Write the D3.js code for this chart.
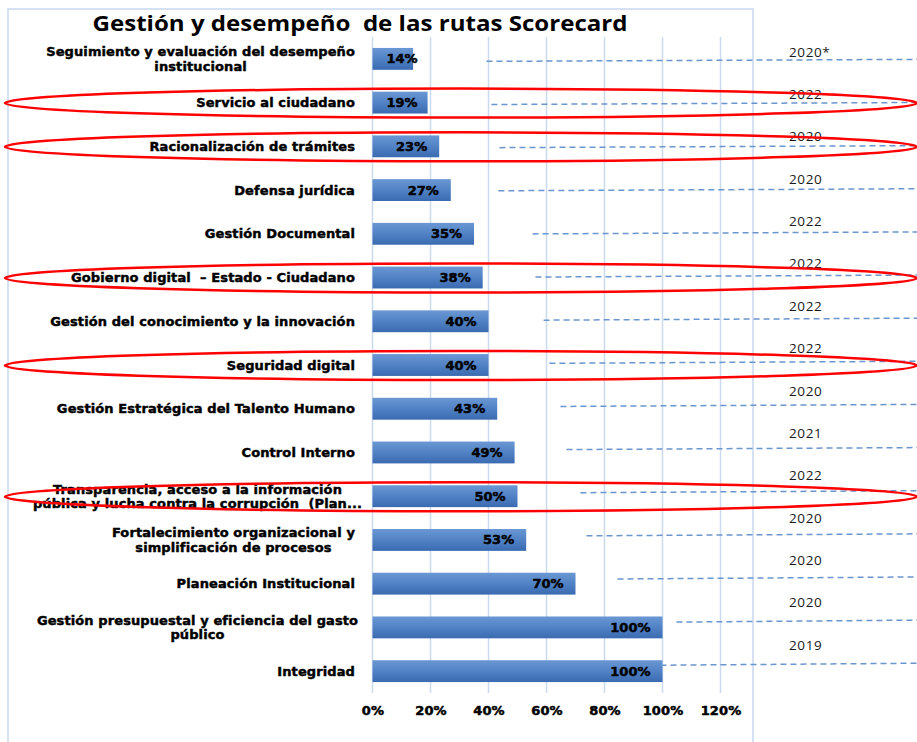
<!DOCTYPE html>
<html><head><meta charset="utf-8">
<script src="https://cdn.jsdelivr.net/npm/d3@7"></script>
<style>
html,body{margin:0;padding:0;background:#fff;}
svg{display:block;}
</style></head>
<body>
<script>
// ---------- DATA ----------
const categories = [
  "Seguimiento y evaluación del desempeño|institucional",
  "Servicio al ciudadano",
  "Racionalización de trámites",
  "Defensa jurídica",
  "Gestión Documental",
  "Gobierno digital  – Estado - Ciudadano",
  "Gestión del conocimiento y la innovación",
  "Seguridad digital",
  "Gestión Estratégica del Talento Humano",
  "Control Interno",
  "Transparencia, acceso a la información|pública y lucha contra la corrupción  (Plan...",
  "Fortalecimiento organizacional y|simplificación de procesos",
  "Planeación Institucional",
  "Gestión presupuestal y eficiencia del gasto|público",
  "Integridad"
];
const values = [14, 19, 23, 27, 35, 38, 40, 40, 43, 49, 50, 53, 70, 100, 100];
const years = ["2020*", "2022", "2020", "2020", "2022", "2022", "2022", "2022", "2020", "2021", "2022", "2020", "2020", "2020", "2019"];
// where each dashed leader line starts, in axis units (%)
const leaderStart = [39.3, 41, 43.8, 43.4, 55.2, 56.2, 59, 61, 64.8, 66.9, 71.7, 73.8, 84.5, 104.8, 99.3];
const highlighted = [
  "Servicio al ciudadano",
  "Racionalización de trámites",
  "Gobierno digital  – Estado - Ciudadano",
  "Seguridad digital",
  "Transparencia, acceso a la información|pública y lucha contra la corrupción  (Plan..."
];
const xTicks = [0, 20, 40, 60, 80, 100, 120];
const title = "Gestión y desempeño  de las rutas Scorecard";

// ---------- LAYOUT ----------
const W = 917, H = 742;
const svg = d3.select("body").append("svg").attr("width", W).attr("height", H);

const defs = svg.append("defs");
const grad = defs.append("linearGradient").attr("id", "barGrad")
  .attr("x1", 0).attr("y1", 0).attr("x2", 0).attr("y2", 1);
grad.append("stop").attr("offset", "0%").attr("stop-color", "#6b98d4");
grad.append("stop").attr("offset", "50%").attr("stop-color", "#5182c5");
grad.append("stop").attr("offset", "100%").attr("stop-color", "#3a6ab0");

const x = d3.scaleLinear().domain([0, 120]).range([372.5, 720.5]);
const y = d3.scaleBand().domain(categories).range([37, 693]).paddingInner(0.5).paddingOuter(0.25);
const yc = d => y(d) + y.bandwidth() / 2;

const labelFont = "'DejaVu Sans', sans-serif";

// chart frame
svg.append("rect").attr("x", 8).attr("y", 9).attr("width", 745).attr("height", 745)
  .attr("fill", "none").attr("stroke", "#c8d9ef").attr("stroke-width", 1.5);

// title
svg.append("text").attr("x", 360).attr("y", 31).attr("text-anchor", "middle")
  .attr("font-family", "'Open Sans', sans-serif").attr("font-weight", "bold")
  .attr("font-size", 21).attr("fill", "#000").style("white-space", "pre")
  .attr("textLength", 535).attr("lengthAdjust", "spacingAndGlyphs")
  .text(title);

// gridlines
svg.append("g").selectAll("line").data(xTicks).join("line")
  .attr("x1", d => x(d)).attr("x2", d => x(d))
  .attr("y1", 37).attr("y2", 693)
  .attr("stroke", "#cadbf0").attr("stroke-width", 1.5);

// x axis tick labels
const xAxis = d3.axisBottom(x).tickValues(xTicks).tickFormat(d => d + "%").tickSize(0).tickPadding(0);
const gx = svg.append("g").attr("transform", "translate(0,706)").call(xAxis);
gx.select(".domain").remove();
gx.selectAll("text").attr("font-family", labelFont).attr("font-weight", "bold")
  .attr("font-size", 13).attr("fill", "#000").attr("stroke", "#000").attr("stroke-width", 0.5)
  .attr("letter-spacing", 0.1);

// bars
svg.append("g").selectAll("rect").data(values).join("rect")
  .attr("x", x(0)).attr("y", (d, i) => y(categories[i]))
  .attr("width", d => x(d) - x(0)).attr("height", y.bandwidth())
  .attr("fill", "url(#barGrad)");

// data labels
svg.append("g").selectAll("text").data(values).join("text")
  .attr("x", d => Math.max(x(d) - 12, x(0) + 45))
  .attr("y", (d, i) => yc(categories[i]))
  .attr("dy", "0.35em").attr("text-anchor", "end")
  .attr("font-family", labelFont).attr("font-weight", "bold").attr("font-size", 13)
  .attr("fill", "#000").attr("stroke", "#000").attr("stroke-width", 0.5)
  .attr("letter-spacing", 0)
  .text(d => d + "%");

// category labels
const catG = svg.append("g");
const avail = 315;
categories.forEach(c => {
  const lines = c.split("|");
  const t = catG.append("text")
    .attr("font-family", labelFont).attr("font-weight", "bold").attr("font-size", 13)
    .attr("fill", "#000").attr("stroke", "#000").attr("stroke-width", 0.45)
    .attr("letter-spacing", 0.1).style("white-space", "pre");
  const lh = 14.5;
  const y0 = yc(c) - (lines.length - 1) * lh / 2;
  const spans = lines.map((l, k) => t.append("tspan").attr("y", y0 + k * lh).attr("dy", "0.35em").text(l));
  if (lines.length === 1) {
    t.attr("text-anchor", "end"); spans[0].attr("x", 355);
  } else {
    const maxW = Math.min(avail, d3.max(spans, s => s.node().getComputedTextLength()));
    t.attr("text-anchor", "middle");
    spans.forEach(s => s.attr("x", 355 - maxW / 2));
  }
});

// leader dashed lines + year labels
const leadG = svg.append("g");
categories.forEach((c, i) => {
  const off = 2.5 - 0.6 * i;
  leadG.append("line")
    .attr("x1", x(leaderStart[i])).attr("y1", yc(c) + off)
    .attr("x2", W).attr("y2", yc(c) + off - 2)
    .attr("stroke", "#6b95cd").attr("stroke-width", 1.5).attr("stroke-dasharray", "6,4");
  leadG.append("text")
    .attr("x", 789).attr("y", yc(c) - 7 - 1.36 * i).attr("dy", "0.35em")
    .attr("font-family", "'Open Sans', sans-serif").attr("font-size", 13.5)
    .attr("letter-spacing", 0.6).attr("fill", "#1a1a1a")
    .text(years[i]);
});

// red highlight ellipses
svg.append("g").selectAll("ellipse").data(highlighted).join("ellipse")
  .attr("cx", 461).attr("cy", d => yc(d) + 0.5)
  .attr("rx", 456).attr("ry", 14.5)
  .attr("fill", "none").attr("stroke", "#ff0000").attr("stroke-width", 2.5);
</script>
</body></html>
